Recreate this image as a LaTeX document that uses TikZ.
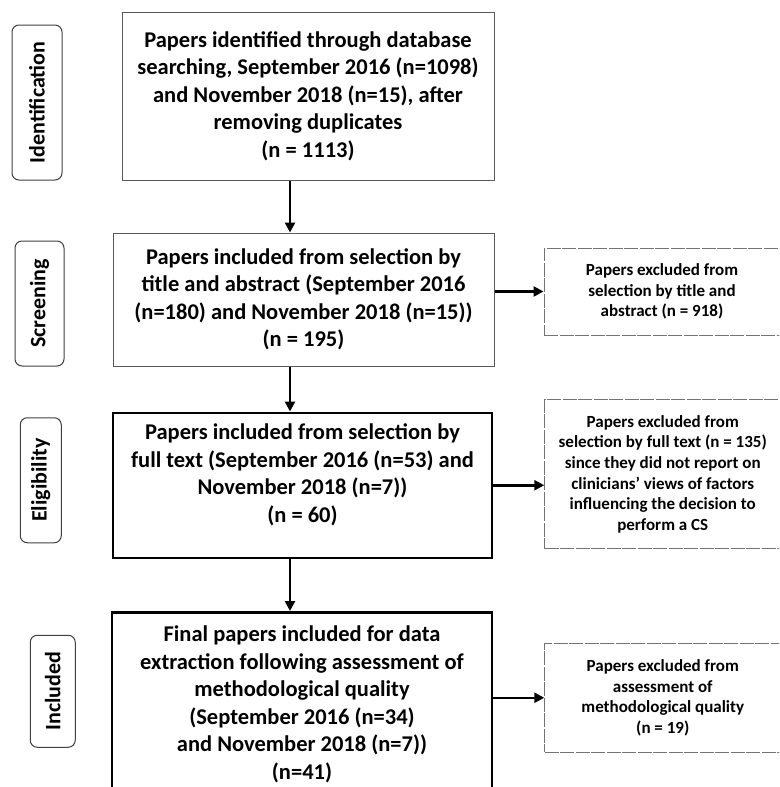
\documentclass[tikz,border=0pt]{standalone}
\usepackage{fontspec}
\setmainfont{Carlito}
\usepackage{graphicx}
\usetikzlibrary{positioning,arrows.meta}

\begin{document}
\begin{tikzpicture}[>={Triangle[length=10pt,width=10pt]},
        mainbox/.style={draw=black!65, line width=1pt, align=center, inner sep=0pt, font=\bfseries\fontsize{22.5}{27.5}\selectfont},
        keybox/.style={mainbox, draw=black, line width=2.5pt},
        sidebox/.style={draw=black!55, line width=1pt, dash pattern=on 14pt off 1.5pt, align=center, inner sep=0pt, minimum width=236pt, font=\bfseries\fontsize{17}{20.7}\selectfont},
        stagebox/.style={draw=black!75, line width=1pt, rounded corners=7pt, inner sep=0pt, font=\bfseries\fontsize{22}{26}\selectfont},
        flow/.style={->, line width=2.5pt}]
    \useasboundingbox (0,0) rectangle (779pt,-787pt);
    \clip (0,0) rectangle (779pt,-787pt);
    \node[mainbox, minimum width=372pt, minimum height=168pt] (b1) at (308pt,-96pt) {Papers identified through database\\searching, September 2016 (n=1098)\\and November 2018 (n=15), after\\removing duplicates\\(n = 1113)};
    \node[mainbox, minimum width=381pt, minimum height=133pt, below=52pt of b1, xshift=-4.5pt] (b2) {Papers included from selection by\\title and abstract (September 2016\\(n=180) and November 2018 (n=15))\\(n = 195)};
    \node[keybox, minimum width=379pt, minimum height=145pt, text depth=24pt, below=45pt of b2, xshift=-1pt] (b3) {Papers included from selection by\\full text (September 2016 (n=53) and\\November 2018 (n=7))\\(n = 60)};
    \node[keybox, minimum width=380pt, minimum height=184pt, below=52pt of b3, xshift=-0.5pt] (b4) {Final papers included for data\\extraction following assessment of\\methodological quality\\(September 2016 (n=34)\\and November 2018 (n=7))\\(n=41)};
    \node[sidebox, minimum height=87pt, right=49pt of b2, yshift=8pt] (r1) {Papers excluded from\\selection by title and\\abstract (n = 918)};
    \node[sidebox, minimum height=149pt, right=51pt of b3, yshift=11pt] (r2) {Papers excluded from\\selection by full text (n = 135)\\since they did not report on\\clinicians’ views of factors\\influencing the decision to\\perform a CS};
    \node[sidebox, minimum height=109pt, right=51pt of b4, yshift=6.5pt] (r3) {Papers excluded from\\assessment of\\methodological quality\\(n = 19)};
    \node[stagebox, minimum width=50pt, minimum height=155pt, left=59pt of b1, yshift=-6.5pt] (l1) {\rotatebox{90}{Identification}};
    \node[stagebox, minimum width=49pt, minimum height=125pt, left=48pt of b2, yshift=-4pt] (l2) {\rotatebox{90}{Screening}};
    \node[stagebox, minimum width=41pt, minimum height=125pt, left=50pt of b3, yshift=5pt] (l3) {\rotatebox{90}{Eligibility}};
    \node[stagebox, minimum width=45pt, minimum height=112pt, left=35pt of b4, yshift=13pt] (l4) {\rotatebox{90}{Included}};
    \draw[flow] ([xshift=-18pt]b1.south) -- ([xshift=-18pt]b1.south |- b2.north);
    \draw[flow] ([xshift=-13.5pt]b2.south) -- ([xshift=-13.5pt]b2.south |- b3.north);
    \draw[flow] ([xshift=-12.5pt]b3.south) -- ([xshift=-12.5pt]b3.south |- b4.north);
    \draw[flow] (b2.east |- r1.west) -- (r1.west);
    \draw[flow] (b3.east) -- (b3.east -| r2.west);
    \draw[flow] (b4.east |- r3.west) -- (r3.west);
\end{tikzpicture}
\end{document}
